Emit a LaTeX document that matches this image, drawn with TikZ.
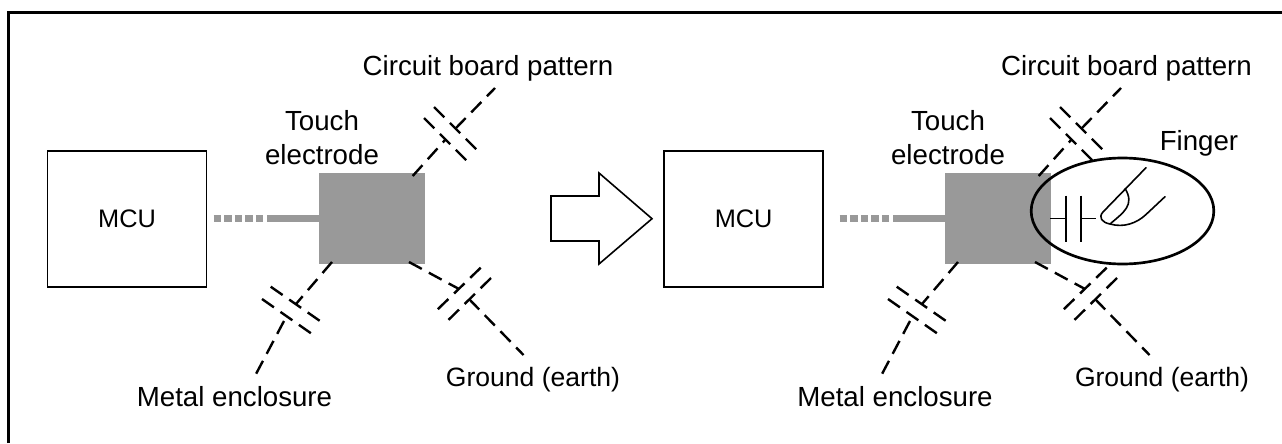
\documentclass[tikz,border=0pt]{standalone}
\usepackage{fontspec}
\setmainfont{Liberation Sans}
\usetikzlibrary{shapes.geometric}
\definecolor{elecgray}{HTML}{999999}
\tikzset{
  lbl/.style={inner sep=0pt,outer sep=0pt,anchor=base,font=\fontsize{20.75pt}{24pt}\selectfont},
  gndlbl/.style={lbl,font=\fontsize{19.9pt}{24pt}\selectfont},
  mcubox/.style={draw=black,line width=1.2pt,fill=white,minimum width=119.5pt,minimum height=102pt,inner sep=0pt,outer sep=0pt,font=\fontsize{19pt}{24pt}\selectfont},
  elecbox/.style={fill=elecgray,minimum width=79.5pt,minimum height=68pt,inner sep=0pt,outer sep=0pt},
  dashline/.style={draw=black,line width=1.8pt,dash pattern=on 10.9pt off 6pt},
  stub/.style={draw=elecgray,line width=5.6pt},
  dots/.style={draw=elecgray,line width=5.6pt,dash pattern=on 5.5pt off 2.4pt},
  thinline/.style={draw=black,line width=1.2pt},
  frameline/.style={draw=black,line width=2.25pt},
}
\newcommand{\touchunit}[1]{%
  \node[elecbox] (#1elec) at (372.2,218.5) {};
  \coordinate (#1dotA) at (213.7,218.7);
  \coordinate (#1dotB) at (264,218.7);
  \coordinate (#1stubA) at (267,218.7);
  \draw[dots] (#1dotA) -- (#1dotB);
  \draw[stub] (#1stubA) -- (#1stubA -| #1elec.west);
  % upper capacitor
  \coordinate (#1uA) at (412.7,176);
  \coordinate (#1uB) at (445.5,139.5);
  \coordinate (#1uC) at (455.5,128.5);
  \coordinate (#1uD) at (495,88);
  \coordinate (#1up1a) at (434,107);
  \coordinate (#1up1b) at (477,150);
  \coordinate (#1up2a) at (424,118);
  \coordinate (#1up2b) at (467,161);
  \draw[dashline] (#1uA) -- (#1uB);
  \draw[dashline] (#1uC) -- (#1uD);
  \draw[dashline] (#1up1a) -- (#1up1b);
  \draw[dashline] (#1up2a) -- (#1up2b);
  % lower-left capacitor
  \coordinate (#1lA) at (332,262);
  \coordinate (#1lB) at (296,304);
  \coordinate (#1lC) at (284,321);
  \coordinate (#1lD) at (256,374);
  \coordinate (#1lp1a) at (270.7,286.7);
  \coordinate (#1lp1b) at (321,321.7);
  \coordinate (#1lp2a) at (262,299);
  \coordinate (#1lp2b) at (312,334);
  \draw[dashline] (#1lA) -- (#1lB);
  \draw[dashline] (#1lC) -- (#1lD);
  \draw[dashline] (#1lp1a) -- (#1lp1b);
  \draw[dashline] (#1lp2a) -- (#1lp2b);
  % lower-right capacitor
  \coordinate (#1rA) at (409,262);
  \coordinate (#1rB) at (459,289);
  \coordinate (#1rC) at (469,299);
  \coordinate (#1rD) at (523.5,355);
  \coordinate (#1rp1a) at (480.7,267.7);
  \coordinate (#1rp1b) at (437,310);
  \coordinate (#1rp2a) at (491,278);
  \coordinate (#1rp2b) at (447.7,320.7);
  \draw[dashline] (#1rA) -- (#1rB);
  \draw[dashline] (#1rC) -- (#1rD);
  \draw[dashline] (#1rp1a) -- (#1rp1b);
  \draw[dashline] (#1rp2a) -- (#1rp2b);
  % touch electrode label
  \node[lbl] (#1touch) at (322,130.7) {Touch};
  \node[lbl] (#1elabel) at (322,164) {electrode};
}
\begin{document}
\begin{tikzpicture}[x=0.75pt,y=-0.75pt]
\useasboundingbox (0,0) rectangle (1282,443);
\coordinate (fbl) at (8.5,443);
\coordinate (ftl) at (8.5,12.5);
\coordinate (ftr) at (1282,12.5);
\draw[frameline,line cap=butt] (fbl) -- (ftl) -- (ftr);

\node[mcubox] (mcuA) at (127,219) {MCU};
\node[mcubox] (mcuB) at (743.6,219) {MCU};

\begin{scope}
\touchunit{a}
\end{scope}
\begin{scope}[shift={(626,0)}]
\touchunit{b}
\end{scope}

% block arrow
\coordinate (ar1) at (551,196);
\coordinate (ar2) at (599,196);
\coordinate (ar3) at (599,173);
\coordinate (ar4) at (652,218.7);
\coordinate (ar5) at (599,264);
\coordinate (ar6) at (599,241);
\coordinate (ar7) at (551,241);
\draw[thinline,line join=miter] (ar1) -- (ar2) -- (ar3) -- (ar4) -- (ar5) -- (ar6) -- (ar7) -- cycle;

% labels
\node[lbl] (cbpA) at (488,75) {Circuit board pattern};
\node[lbl] (cbpB) at (1126.5,75) {Circuit board pattern};
\node[lbl] (metA) at (234.5,406) {Metal enclosure};
\node[lbl] (metB) at (895,406) {Metal enclosure};
\node[gndlbl] (gndA) at (533,386) {Ground (earth)};
\node[gndlbl] (gndB) at (1162,386) {Ground (earth)};
\node[lbl] (fing) at (1199,150) {Finger};

% finger ellipse
\node[ellipse,draw=black,line width=2pt,minimum width=137pt,minimum height=79.5pt,inner sep=0pt,outer sep=0pt] (fell) at (1122.5,211) {};

% capacitor to the finger
\coordinate (cw1) at (1050,218.3);
\coordinate (cw2) at (1066,218.3);
\coordinate (cp1a) at (1066,195.7);
\coordinate (cp1b) at (1066,241.7);
\coordinate (cp2a) at (1081,195.7);
\coordinate (cp2b) at (1081,241.7);
\coordinate (cw3) at (1081,218.3);
\coordinate (cw4) at (1096,218.3);
\draw[thinline] (cw1) -- (cw2);
\draw[thinline] (cp1a) -- (cp1b);
\draw[thinline] (cp2a) -- (cp2b);
\draw[thinline] (cw3) -- (cw4);

% finger
\coordinate (f1) at (1146,167.7);
\coordinate (f2) at (1103,212);
\coordinate (f3) at (1110,224);
\coordinate (f4) at (1165,196.7);
\coordinate (n1) at (1125,188.3);
\draw[thinline,line cap=round] (f1) -- (f2)
  .. controls (1098,217.5) and (1102,222.5) .. (f3)
  .. controls (1124,228) and (1137,223) .. (1146,214.5)
  -- (f4);
\draw[thinline] (n1) .. controls (1135,205) and (1124,212) .. (f3);
\end{tikzpicture}
\end{document}
